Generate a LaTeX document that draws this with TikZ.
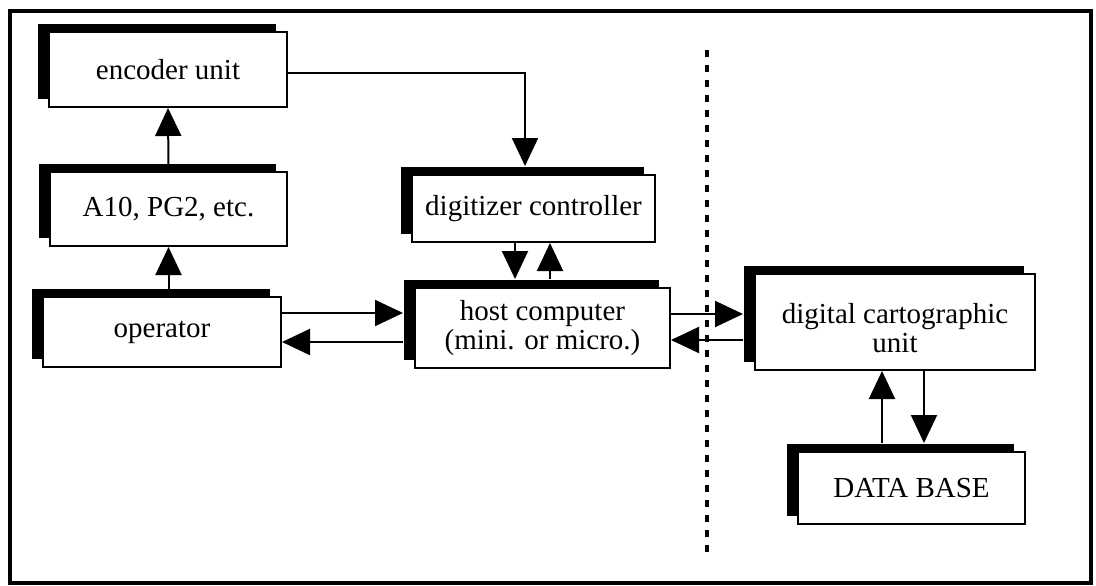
\documentclass[tikz,border=0pt]{standalone}
\usepackage{fontspec}
\setmainfont{Liberation Serif}
\usetikzlibrary{arrows.meta,shadows}
\begin{document}
\begin{tikzpicture}[x=1pt,y=-1pt,
  unit/.style={draw=black, line width=2pt, fill=white, inner sep=0pt, align=center,
    font=\fontsize{29pt}{29pt}\selectfont,
    general shadow={fill=black, shadow xshift=-11pt, shadow yshift=8pt}},
  link/.style={line width=2pt, -{Triangle[length=28pt,width=26pt]}},
  frame/.style={line width=3.5pt},
  divider/.style={line width=4pt, dash pattern=on 7pt off 8pt}]
\useasboundingbox (0,0) rectangle (1096,586);

% outer frame
\draw[frame] (10,11) rectangle (1091,583);

% boxes
\node[unit, minimum width=238pt, minimum height=75pt] (enc) at (168,69.5) {encoder unit};
\node[unit, minimum width=237pt, minimum height=74pt] (a10) at (168.5,209) {A10, PG2, etc.};
\node[unit, minimum width=238pt, minimum height=70pt] (op) at (162,332) {operator};
\node[unit, minimum width=243pt, minimum height=67pt] (dig) at (533.5,208.5) {digitizer controller};
\node[unit, minimum width=255pt, minimum height=80pt] (host) at (542.5,328) {host computer\\(mini. or micro.)};
\node[unit, minimum width=280pt, minimum height=96pt] (dcu) at (895,322) {\rule{0pt}{32pt}digital cartographic\\unit};
\node[unit, minimum width=227pt, minimum height=72pt] (db) at (911.5,488) {DATA BASE};

% boundary between the two sides
\draw[divider] (707,50) -- (707,553);

% connectors
\draw[link] (a10.north) -- (enc.south);
\draw[link] (a10.south |- op.north) -- (a10.south);
\draw[link] ([yshift=-4pt]enc.east) -| ([xshift=-8.5pt,yshift=8pt]dig.north);
\draw[link] ([xshift=-18.5pt]dig.south) -- ([xshift=-27.5pt,yshift=8pt]host.north);
\draw[link] ([xshift=7.5pt,yshift=8pt]host.north) -- ([xshift=16.5pt]dig.south);
\draw[link] ([yshift=19pt]op.east) -- ([xshift=-11pt,yshift=15pt]host.west);
\draw[link] ([xshift=-11pt,yshift=-14pt]host.west) -- ([yshift=-10pt]op.east);
\draw[link] ([yshift=14pt]host.east) -- ([xshift=-11pt,yshift=8pt]dcu.west);
\draw[link] ([xshift=-11pt,yshift=-18pt]dcu.west) -- ([yshift=-12pt]host.east);
\draw[link] ([xshift=-29.5pt,yshift=8pt]db.north) -- ([xshift=-13pt]dcu.south);
\draw[link] ([xshift=29pt]dcu.south) -- ([xshift=12.5pt,yshift=8pt]db.north);
\end{tikzpicture}
\end{document}
